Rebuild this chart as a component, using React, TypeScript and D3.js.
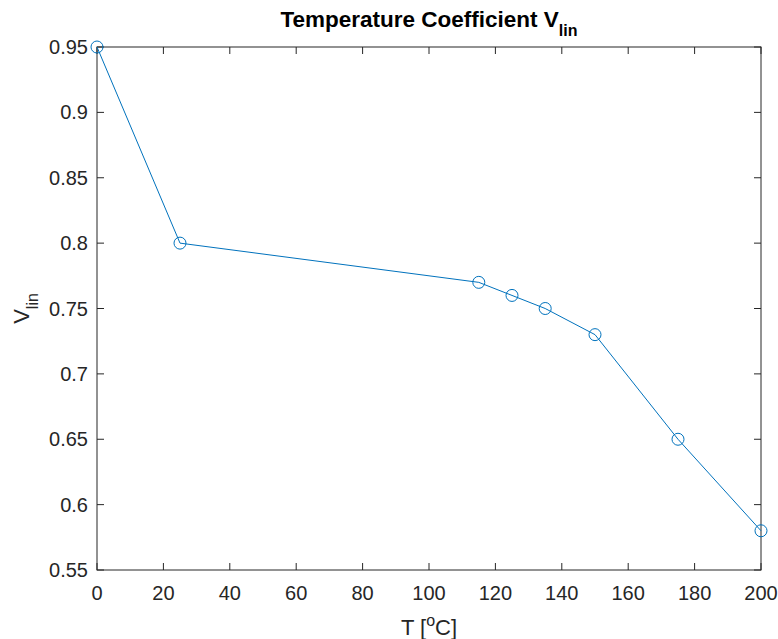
import * as d3 from 'd3'

const temps = [0, 25, 115, 125, 135, 150, 175, 200]
const vlin = [0.95, 0.8, 0.77, 0.76, 0.75, 0.73, 0.65, 0.58]
const xTicks = [0, 20, 40, 60, 80, 100, 120, 140, 160, 180, 200]
const yTicks = [0.55, 0.6, 0.65, 0.7, 0.75, 0.8, 0.85, 0.9, 0.95]

const W = 778
const H = 639
const left = 97
const right = 761
const top = 47
const bottom = 570
const axisColor = '#262626'
const lineColor = '#0072BD'
const font = '"Liberation Sans", Arial, Helvetica, sans-serif'

const App = () => {
    const x = d3.scaleLinear().domain([0, 200]).range([left, right])
    const y = d3.scaleLinear().domain([0.55, 0.95]).range([bottom, top])
    const pts: [number, number][] = temps.map((t, i) => [t, vlin[i]])
    const line = d3.line<[number, number]>().x(d => x(d[0])).y(d => y(d[1]))
    const tl = 7

    return (
        <svg width={W} height={H} style={{ position: 'absolute', left: 0, top: 0 }} fontFamily={font}>
            <rect width={W} height={H} fill="white" />
            {/* box */}
            <rect x={left} y={top} width={right - left} height={bottom - top} fill="none" stroke={axisColor} strokeWidth={1} />
            {xTicks.map(t => (
                <g key={'x' + t}>
                    <line x1={x(t)} x2={x(t)} y1={bottom} y2={bottom - tl} stroke={axisColor} />
                    <line x1={x(t)} x2={x(t)} y1={top} y2={top + tl} stroke={axisColor} />
                    <text x={x(t)} y={600} textAnchor="middle" fontSize={20} fill={axisColor}>{t}</text>
                </g>
            ))}
            {yTicks.map(t => (
                <g key={'y' + t}>
                    <line x1={left} x2={left + tl} y1={y(t)} y2={y(t)} stroke={axisColor} />
                    <line x1={right} x2={right - tl} y1={y(t)} y2={y(t)} stroke={axisColor} />
                    <text x={88} y={y(t)} dy="0.35em" textAnchor="end" fontSize={20} fill={axisColor}>{String(t)}</text>
                </g>
            ))}
            <path d={line(pts) ?? ''} fill="none" stroke={lineColor} strokeWidth={1} />
            {pts.map((p, i) => (
                <circle key={i} cx={x(p[0])} cy={y(p[1])} r={6} fill="none" stroke={lineColor} strokeWidth={1} />
            ))}
            {/* title */}
            <text x={(left + right) / 2} y={27} textAnchor="middle" fontSize={22.5} fontWeight="bold" fill="#000">
                Temperature Coefficient V<tspan dy={9} fontSize={16}>lin</tspan>
            </text>
            {/* x label */}
            <text x={(left + right) / 2} y={635} textAnchor="middle" fontSize={22} fill={axisColor}>
                T [<tspan dy={-9} fontSize={16}>o</tspan><tspan dy={9}>C]</tspan>
            </text>
            {/* y label */}
            <text transform={`translate(29,${(top + bottom) / 2}) rotate(-90)`} textAnchor="middle" fontSize={22} fill={axisColor}>
                V<tspan dy={9} fontSize={16}>lin</tspan>
            </text>
        </svg>
    )
}

export default App
